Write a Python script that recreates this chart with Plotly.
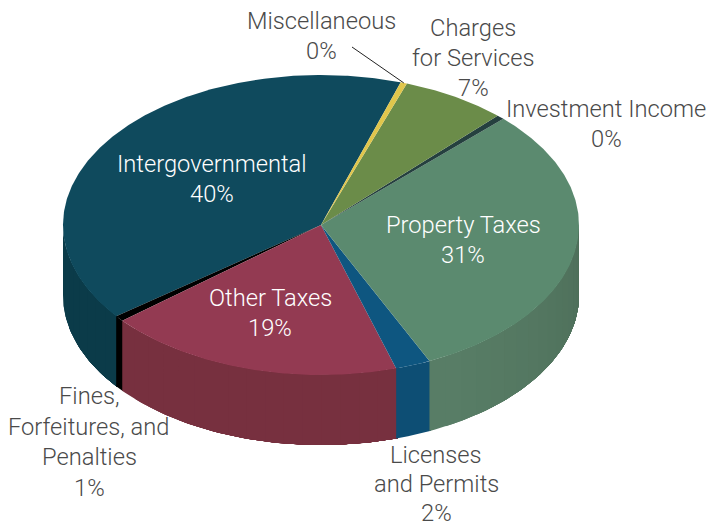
import numpy as np
import plotly.graph_objects as go

# Data, in drawing order (counter-clockwise from the top)
categories = ["Intergovernmental", "Fines, Forfeitures, and Penalties", "Other Taxes",
              "Licenses and Permits", "Property Taxes", "Investment Income",
              "Charges for Services", "Miscellaneous"]
values = [40.4, 0.6, 18.7, 2.2, 30.6, 0.49, 6.6, 0.4]
percent_labels = ["40%", "1%", "19%", "2%", "31%", "0%", "7%", "0%"]
label_lines = [["Intergovernmental"], ["Fines,", "Forfeitures, and", "Penalties"], ["Other Taxes"],
               ["Licenses", "and Permits"], ["Property Taxes"], ["Investment Income"],
               ["Charges", "for Services"], ["Miscellaneous"]]

top_colors = ["#0f4a5d", "#000000", "#933a52", "#0e5680", "#5b8a6f", "#25403f", "#6b8c49", "#e0c64c"]
side_colors = ["#0b3b49", "#000000", "#77303f", "#0d4e74", "#587d66", "#25403f", "#5f7d42", "#c4ad40"]

# label placement: centre x, first-line y, line gap, colour
label_x = [212, 89, 270, 436, 463, 606, 473, 321]
label_y = [164, 396, 298, 455, 225, 109, 28, 21]
label_gap = [30, 30.7, 30, 29, 30, 30, 30, 30]
label_color = ["#ffffff", "#4a4a4a", "#ffffff", "#4a4a4a", "#ffffff", "#4a4a4a", "#4a4a4a", "#4a4a4a"]

CX, CY, RX, RY, DEPTH = 321, 225, 258, 150, 70
START = 72.0

def ell(t, dy=0):
    t = np.radians(t)
    return CX + RX * np.cos(t), CY - RY * np.sin(t) + dy

def shade(c, f):
    r, g, b = int(c[1:3], 16), int(c[3:5], 16), int(c[5:7], 16)
    return f"rgb({r*f:.0f},{g*f:.0f},{b*f:.0f})"

fig = go.Figure()

def poly(xs, ys, color):
    fig.add_trace(go.Scatter(x=xs, y=ys, mode="lines", fill="toself", fillcolor=color,
                             line=dict(width=0), hoverinfo="skip", showlegend=False))

shares = np.array(values) / sum(values) * 360
edges = START + np.concatenate([[0], np.cumsum(shares)])

# side wall (visible lower half, 180..360); later bands overlap earlier ones, so no seams
for i in range(len(values)):
    a0, a1 = max(edges[i], 180), min(edges[i + 1], 360)
    if a1 <= a0:
        continue
    end = min(a1 + 0.4, 360)
    steps = max(1, int((a1 - a0) / 4))
    b = np.linspace(a0, a1, steps + 1)
    for j in range(steps):
        ts = np.linspace(b[j], end, max(3, int(end - b[j]) + 2))
        x, y0 = ell(ts)
        _, y1 = ell(ts, DEPTH)
        mid = (b[j] + b[j + 1]) / 2
        f = 1.0 - 0.12 * max(0, (mid - 300) / 60)
        poly(np.r_[x, x[::-1]], np.r_[y0, y1[::-1]], shade(side_colors[i], f))

# top surface
for i in range(len(values)):
    ts = np.linspace(edges[i], edges[i + 1], max(3, int(shares[i] * 2)))
    x, y = ell(ts)
    poly(np.r_[CX, x, CX], np.r_[CY, y, CY], top_colors[i])

# leader line for Miscellaneous
mx, my = ell(edges[7] + shares[7] / 2)
fig.add_trace(go.Scatter(x=[352, mx], y=[47, my], mode="lines", line=dict(color="#222222", width=1),
                         hoverinfo="skip", showlegend=False))

# labels
for i, lines in enumerate(label_lines):
    for k, s in enumerate(lines + [percent_labels[i]]):
        fig.add_annotation(x=label_x[i], y=label_y[i] + k * label_gap[i], text=s, showarrow=False,
                           xanchor="center", yanchor="middle", borderpad=0, borderwidth=0,
                           font=dict(family="Roboto", size=23.7, color=label_color[i], weight=300))

fig.update_xaxes(range=[0, 707], visible=False)
fig.update_yaxes(range=[525, 0], visible=False)
fig.update_layout(width=707, height=525, margin=dict(l=0, r=0, t=0, b=0),
                  plot_bgcolor="white", paper_bgcolor="white", showlegend=False)
fig.write_html("out.html", config=dict(displayModeBar=False),
               post_script="document.body.style.margin='0';document.body.style.overflow='hidden';")
